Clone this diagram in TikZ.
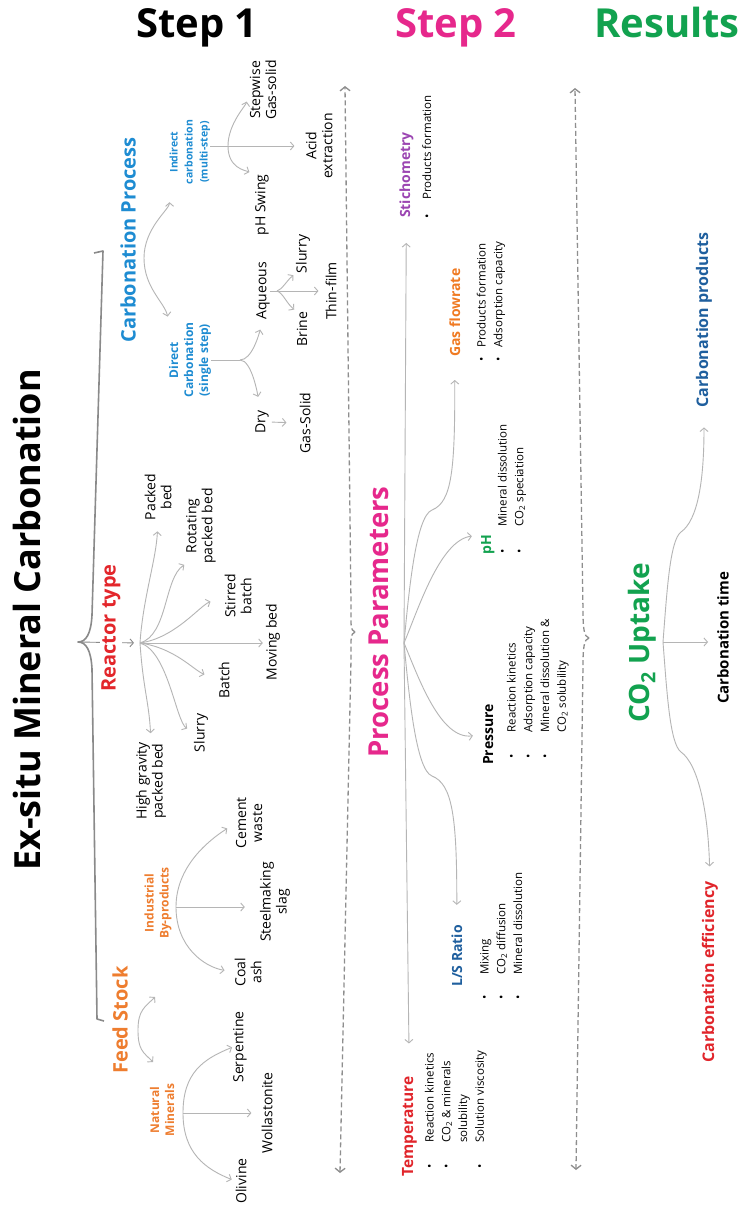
\documentclass[tikz,border=0pt]{standalone}
\usepackage{fontspec}
\setmainfont{Open Sans}
\usetikzlibrary{arrows.meta,calc}
\definecolor{cpblue}{HTML}{1E8CD2}
\definecolor{rtred}{HTML}{E3262B}
\definecolor{fsorange}{HTML}{EE7D2F}
\definecolor{stepmag}{HTML}{E6288C}
\definecolor{resgreen}{HTML}{12A24F}
\definecolor{stpurple}{HTML}{9B45B2}
\definecolor{gforange}{HTML}{F07A22}
\definecolor{lsblue}{HTML}{1F5F9E}
\definecolor{tpred}{HTML}{E1252B}
\definecolor{treegray}{HTML}{B5B5B5}
\definecolor{dashgray}{HTML}{8E8E8E}
\definecolor{bracegray}{HTML}{8A8A8A}
% bullet list set in a rotated node: #1 = gap after the bullet
\newcommand{\plist}[2]{\begin{tabular}[t]{@{}l@{\hspace{#1}}l@{}}#2\end{tabular}}

\begin{document}
\begin{tikzpicture}[x=1pt, y=-1pt, >={Straight Barb[length=3.5pt,width=8pt]},
  leaf/.style={rotate=90, inner sep=0pt, align=center, font=\fontsize{14}{16}\selectfont},
  sub/.style={rotate=90, inner sep=0pt, align=center, font=\bfseries\fontsize{12}{15}\selectfont},
  head/.style={rotate=90, inner sep=0pt, font=\bfseries\fontsize{20}{24}\selectfont},
  ptitle/.style={rotate=90, anchor=base west, inner sep=0pt, font=\bfseries\fontsize{14}{16}\selectfont},
  plst/.style={rotate=90, anchor=base west, inner sep=0pt, font=\fontsize{11.5}{16.8}\selectfont},
  res/.style={rotate=90, inner sep=0pt, font=\bfseries\fontsize{16}{18}\selectfont},
  stephead/.style={anchor=base, inner sep=0pt, font=\bfseries\fontsize{40}{44}\selectfont},
  tree/.style={draw=treegray, line width=0.9pt, ->},
  trunk/.style={draw=treegray, line width=0.9pt},
  sweep/.style={draw=dashgray, line width=1.3pt, dash pattern=on 5pt off 3pt, -{Straight Barb[length=4pt,width=10pt]}}]
  \fill[white] (0,0) rectangle (740,1209);
  \useasboundingbox (0,0) rectangle (740,1209);

  % column headings
  \node[stephead] (s1) at (197,37.5) {Step 1};
  \node[stephead, text=stepmag] (s2) at (456,37.5) {Step 2};
  \node[stephead, text=resgreen] (s3) at (667,37.5) {Results};

  % main title and its brace
  \node[rotate=90, inner sep=0pt, font=\bfseries\fontsize{36}{40}\selectfont] (main) at (27,620) {Ex-situ Mineral Carbonation};
  \coordinate (brace-tip) at (78,642);
  \draw[bracegray, line width=1.6pt, line join=round] (94,253) -- (103,251) -- (92,615)
    .. controls (91,634) and (86,642) .. (brace-tip)
    .. controls (86,642) and (91,650) .. (92,669) -- (97,1019) -- (104,1021);

  % dashed sweeps between the steps
  \coordinate (d1-mid) at (355,632);
  \draw[sweep] (d1-mid) .. controls (350,631) and (351,622) .. (351,605) -- (345,86);
  \draw[sweep] (d1-mid) .. controls (350,633) and (351,642) .. (351,659) -- (340,1173);
  \coordinate (d2-mid) at (589,638);
  \draw[sweep] (d2-mid) .. controls (584,637) and (583,628) .. (583,611) -- (575,88);
  \draw[sweep] (d2-mid) .. controls (584,639) and (583,648) .. (583,665) -- (576,1170);

  %% Step 1
  \coordinate (rt-root) at (140,643);
  \draw[tree, draw=bracegray, shorten >=6pt] (brace-tip) -- (rt-root);
  \node[head, text=cpblue] (cp) at (128,240) {Carbonation Process};
  \node[head, text=rtred, fill=white, inner sep=1pt] (rt) at (111,628) {Reactor type};
  \node[head, text=fsorange] (fs) at (120,1020) {Feed Stock};

  % carbonation process
  \node[sub, text=cpblue, font=\bfseries\fontsize{10.5}{15}\selectfont] (ind) at (190,152) {Indirect\\carbonation\\(multi-step)};
  \node[sub, text=cpblue] (dc) at (190,360) {Direct\\Carbonation\\(single step)};
  \node[leaf] (sg) at (263,90) {Stepwise\\Gas-solid};
  \node[leaf] (phs) at (262,205) {pH Swing};
  \node[leaf] (ae) at (319,146) {Acid\\extraction};
  \node[leaf] (aq) at (263,291) {Aqueous};
  \node[leaf] (dry) at (262,422) {Dry};
  \node[leaf] (gs) at (305,423) {Gas-Solid};
  \node[leaf] (sl2) at (303,254) {Slurry};
  \node[leaf] (br) at (302,329) {Brine};
  \node[leaf] (tf) at (331,291) {Thin-film};

  \coordinate (cp-fork) at (144,258);
  \draw[tree, shorten >=18pt] (cp-fork) .. controls +(0,-30) and +(0,25) .. (ind.north west);
  \draw[tree, shorten >=6pt] (cp-fork) .. controls +(0,30) and +(-4,-20) .. (dc.north east);

  \coordinate (ind-fork) at (228,146);
  \draw[tree, shorten >=11pt] (ind.south |- ae.north) -- (ae.north);
  \draw[tree, shorten >=12pt] (ind-fork) .. controls +(0,-22) and +(-4,16) .. (sg.north);
  \draw[tree, shorten >=6pt] (ind-fork) .. controls +(0,22) and +(-10,-4) .. (phs.north east);

  \coordinate (dc-fork) at (240,360);
  \draw[trunk] (dc.south) -- (dc-fork);
  \draw[tree, shorten >=10pt] (dc-fork) .. controls +(12,0) and +(-4,14) .. (aq.west);
  \draw[tree, shorten >=14pt] (dc-fork) .. controls +(12,0) and +(-4,-14) .. (dry.east);
  \draw[tree, shorten <=3pt, shorten >=13pt] (dry.south) -- (gs.north);

  \coordinate (aq-fork) at (277,291);
  \draw[tree, shorten >=7pt] (aq.south) -- (tf.north);
  \draw[tree, shorten >=3pt] (aq-fork) .. controls +(6,-2) and +(-10,8) .. (sl2.north west);
  \draw[tree, shorten >=3pt] (aq-fork) .. controls +(6,2) and +(-10,-8) .. (br.north east);

  % reactor type
  \node[leaf] (pb) at (158,497) {Packed\\bed};
  \node[leaf] (rpb) at (201,526) {Rotating\\packed bed};
  \node[leaf] (sb) at (238,596) {Stirred\\batch};
  \node[leaf] (mb) at (273,642) {Moving bed};
  \node[leaf] (ba) at (224,680) {Batch};
  \node[leaf] (sl) at (201,733) {Slurry};
  \node[leaf] (hg) at (151,781) {High gravity\\packed bed};

  \draw[tree, shorten >=11pt] (rt-root) .. controls +(3,-45) and +(-2,40) .. (pb.west);
  \draw[tree, shorten >=2pt] (rt-root) .. controls +(28,-8) and +(-22,14) .. (rpb.north west);
  \draw[tree, shorten >=15pt] (rt-root) .. controls +(35,-5) and +(-25,10) .. (sb.north);
  \draw[tree, shorten >=3pt] (rt-root) -- (rt-root -| mb.north);
  \draw[tree, shorten >=15pt] (rt-root) .. controls +(35,5) and +(-25,-10) .. (ba.north);
  \draw[tree, shorten >=8pt] (rt-root) .. controls +(28,8) and +(-18,-12) .. (sl.north);
  \draw[tree, shorten >=9pt] (rt-root) .. controls +(3,45) and +(-2,-40) .. (hg.east);

  % feed stock
  \node[sub, text=fsorange] (nm) at (162,1110) {Natural\\Minerals};
  \node[sub, text=fsorange] (ib) at (158,903) {Industrial\\By-products};
  \node[leaf] (sp) at (240,1047) {Serpentine};
  \node[leaf] (wo) at (267,1113) {Wollastonite};
  \node[leaf] (ol) at (241,1181) {Olivine};
  \node[leaf] (ca) at (248,972) {Coal\\ash};
  \node[leaf] (sm) at (275,902) {Steelmaking\\slag};
  \node[leaf] (cw) at (249,823) {Cement\\waste};

  \coordinate (fs-fork) at (138,1030);
  \coordinate (fs-up) at (155,997);
  \coordinate (fs-down) at (153,1062);
  \draw[tree] (fs-fork) .. controls +(0,-20) and +(-10,10) .. (fs-up);
  \draw[tree] (fs-fork) .. controls +(0,20) and +(-10,-10) .. (fs-down);

  \coordinate (nm-fork) at (183,1113);
  \draw[tree, shorten >=10pt] (nm-fork) -- (nm-fork -| wo.north);
  \draw[tree, shorten >=1pt] (nm-fork) .. controls +(0,-40) and +(-30,12) .. (sp.north);
  \draw[tree, shorten >=4pt] (nm-fork) .. controls +(0,40) and +(-30,-12) .. (ol.north);

  \coordinate (ib-fork) at (176,907);
  \draw[tree, shorten >=15pt] (ib-fork) -- (ib-fork -| sm.north);
  \draw[tree, shorten >=10pt] (ib-fork) .. controls +(0,-40) and +(-28,18) .. (cw.north);
  \draw[tree, shorten >=10pt] (ib-fork) .. controls +(0,40) and +(-30,-5) .. (ca.north);

  %% Step 2
  \node[rotate=90, inner sep=0pt, text=stepmag, font=\bfseries\fontsize{27.5}{30}\selectfont] (pp) at (378.5,622) {Process Parameters};
  \coordinate (pp-root) at (404,643);

  \node[ptitle, text=stpurple] (st) at (410,218) {Stichometry};
  \node[plst] (st-l) at (431,219) {\plist{15pt}{\textbullet & Products formation}};
  \node[ptitle, text=gforange] (gf) at (460,357) {Gas flowrate};
  \node[plst] (gf-l) at (485.5,362) {\plist{10pt}{\textbullet & Products formation\\ \textbullet & Adsorption capacity}};
  \node[ptitle, text=resgreen] (ph) at (491,555) {pH};
  \node[plst] (ph-l) at (506.5,554) {\plist{23pt}{\textbullet & Mineral dissolution\\ \textbullet & CO\textsubscript{2} speciation}};
  \node[ptitle] (pr) at (493,765) {Pressure};
  \node[plst] (pr-l) at (515.5,759) {\plist{22pt}{\textbullet & Reaction kinetics\\ \textbullet & Adsorption capacity\\ \textbullet & Mineral dissolution \&\\ & CO\textsubscript{2} solubility}};
  \node[ptitle, text=lsblue] (ls) at (462,987) {L/S Ratio};
  \node[plst] (ls-l) at (488.5,1000) {\plist{21pt}{\textbullet & Mixing\\ \textbullet & CO\textsubscript{2} diffusion\\ \textbullet & Mineral dissolution}};
  \node[ptitle, text=tpred, font=\bfseries\fontsize{15.5}{18}\selectfont] (tp) at (413,1177) {Temperature};
  \node[plst] (tp-l) at (433.5,1169) {\plist{22pt}{\textbullet & Reaction kinetics\\ \textbullet & CO\textsubscript{2} \& minerals\\ & solubility\\ \textbullet & Solution viscosity}};

  \draw[tree, shorten >=25pt] (pp-root) -- (st.west);
  \draw[tree, shorten >=33pt] (pp-root) -- (tp.east);
  \draw[tree, shorten >=23pt] (pp-root) .. controls (409,590) and (416,516) .. (432,510)
    .. controls (452,502) and (455,470) .. (gf.west);
  \draw[tree, shorten >=20pt] (pp-root) .. controls (409,696) and (416,770) .. (432,776)
    .. controls (452,784) and (457,815) .. (ls.east);
  \draw[tree, shorten >=9pt] (pp-root) .. controls (418,610) and (440,540) .. (ph.north east);
  \draw[tree, shorten >=10pt] (pp-root) .. controls (418,676) and (440,740) .. (pr.north);

  %% Results
  \node[rotate=90, inner sep=0pt, text=resgreen, font=\bfseries\fontsize{28}{32}\selectfont] (up) at (642.5,643) {CO\textsubscript{2} Uptake};
  \coordinate (res-root) at (663,642);
  \node[res, font=\bfseries\fontsize{15}{18}\selectfont] (ct) at (723,638) {Carbonation time};
  \node[res, text=lsblue] (cpr) at (704,320) {Carbonation products};
  \node[res, text=tpred] (ce) at (710,972) {Carbonation efficiency};

  \draw[tree, shorten >=9pt] (res-root) -- (res-root -| ct.north);
  \draw[tree, shorten >=20pt] (res-root) .. controls (667,590) and (670,540) .. (681,532)
    .. controls (698,520) and (704,480) .. (cpr.west);
  \draw[tree, shorten >=15pt] (res-root) .. controls (667,694) and (670,744) .. (681,752)
    .. controls (698,764) and (708,810) .. (ce.east);
\end{tikzpicture}
\end{document}
